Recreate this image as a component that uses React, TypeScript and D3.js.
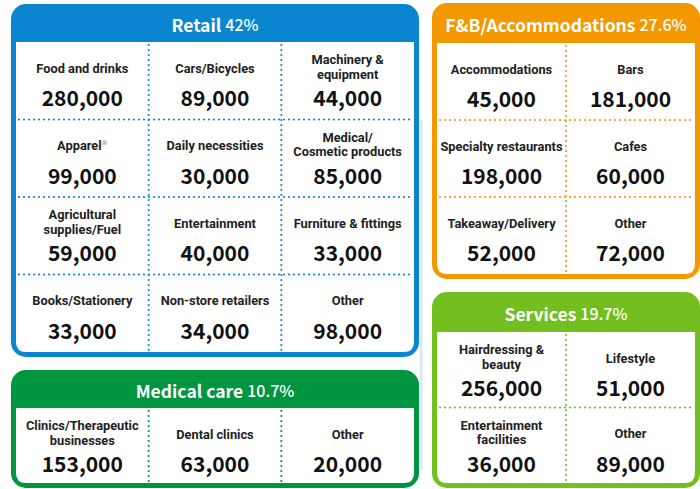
import React from "react";
import * as d3 from "d3";

const W = 700;
const H = 489;

const retailTitle = "Retail";
const retailPct = "42%";
const retailLabels = [
  ["Food and drinks"], ["Cars/Bicycles"], ["Machinery &", "equipment"],
  ["Apparel"], ["Daily necessities"], ["Medical/", "Cosmetic products"],
  ["Agricultural", "supplies/Fuel"], ["Entertainment"], ["Furniture & fittings"],
  ["Books/Stationery"], ["Non-store retailers"], ["Other"],
];
const retailValues = [280000, 89000, 44000, 99000, 30000, 85000, 59000, 40000, 33000, 33000, 34000, 98000];

const fbTitle = "F&B/Accommodations";
const fbPct = "27.6%";
const fbLabels = [
  ["Accommodations"], ["Bars"],
  ["Specialty restaurants"], ["Cafes"],
  ["Takeaway/Delivery"], ["Other"],
];
const fbValues = [45000, 181000, 198000, 60000, 52000, 72000];

const medTitle = "Medical care";
const medPct = "10.7%";
const medLabels = [["Clinics/Therapeutic", "businesses"], ["Dental clinics"], ["Other"]];
const medValues = [153000, 63000, 20000];

const svcTitle = "Services";
const svcPct = "19.7%";
const svcLabels = [["Hairdressing &", "beauty"], ["Lifestyle"], ["Entertainment", "facilities"], ["Other"]];
const svcValues = [256000, 51000, 36000, 89000];

const FONT = "'Noto Sans CJK JP', 'Noto Sans', sans-serif";
const LFONT = "Roboto, 'Noto Sans', sans-serif";
const fmt = d3.format(",");

type PanelProps = {
  x0: number; x1: number; y0: number; y1: number; hb: number;
  color: string; title: string; pct: string;
  labels: string[][]; values: number[]; cols: number; rows: number;
  noteIndex?: number;
};

function Panel(p: PanelProps) {
  const bw = 5;
  const r = 15;
  const ir = 10;
  const ix0 = p.x0 + bw;
  const ix1 = p.x1 - bw;
  const iy1 = p.y1 - bw;
  const xs = d3.scaleBand<number>().domain(d3.range(p.cols)).range([ix0, ix1]);
  const ys = d3.scaleBand<number>().domain(d3.range(p.rows)).range([p.hb, iy1]);
  const inner = `M${ix0},${p.hb} H${ix1} V${iy1 - ir} Q${ix1},${iy1} ${ix1 - ir},${iy1} H${ix0 + ir} Q${ix0},${iy1} ${ix0},${iy1 - ir} Z`;
  const dot = { stroke: p.color, strokeWidth: 2.2, strokeDasharray: "0 5", strokeLinecap: "round" as const };
  return (
    <g>
      <rect x={p.x0} y={p.y0} width={p.x1 - p.x0} height={p.y1 - p.y0} rx={r} fill={p.color} />
      <path d={inner} fill="#fff" />
      <text x={(p.x0 + p.x1) / 2} y={(p.y0 + p.hb) / 2 + 1} textAnchor="middle" dominantBaseline="central"
        fill="#fff" fontFamily={FONT}>
        <tspan fontSize={17.5} fontWeight={700}>{p.title} </tspan>
        <tspan fontSize={16} fontWeight={500}>{p.pct}</tspan>
      </text>
      {d3.range(1, p.cols).map((c) => (
        <line key={"v" + c} x1={xs(c)!} x2={xs(c)!} y1={p.hb + 3} y2={iy1 - 1} {...dot} />
      ))}
      {d3.range(1, p.rows).map((rr) => (
        <line key={"h" + rr} x1={ix0 + 3} x2={ix1 - 1} y1={ys(rr)!} y2={ys(rr)!} {...dot} />
      ))}
      {p.values.map((v, i) => {
        const c = i % p.cols;
        const rr = Math.floor(i / p.cols);
        const cx = xs(c)! + xs.bandwidth() / 2;
        const top = ys(rr)!;
        const lab = p.labels[i];
        const lys = lab.length === 1 ? [top + 26] : [top + 17.5, top + 32];
        return (
          <g key={i}>
            {lab.map((l, k) => (
              <text key={k} x={cx} y={lys[k]} textAnchor="middle" dominantBaseline="central"
                fontFamily={LFONT} fontWeight={700} fontSize={12.8} fill="#222">
                {l}
                {p.noteIndex === i && k === 0 ? <tspan fontSize={7} fill="#aaa" dy={-3}>※</tspan> : null}
              </text>
            ))}
            <text x={cx} y={top + 55} textAnchor="middle" dominantBaseline="central"
              fontFamily={FONT} fontWeight={700} fontSize={21} fill="#111">
              {fmt(v)}
            </text>
          </g>
        );
      })}
    </g>
  );
}

export default function App() {
  return (
    <svg width={W} height={H} style={{ position: "absolute", left: 0, top: 0, background: "#fff" }}>
      <rect x={0} y={0} width={W} height={H} fill="#fff" />
      <rect x={420} y={120} width={2.5} height={350} fill="#d3ebf8" />
      <Panel x0={11} x1={419} y0={4} y1={357} hb={42} color="#0a86d1" title={retailTitle} pct={retailPct}
        labels={retailLabels} values={retailValues} cols={3} rows={4} noteIndex={3} />
      <Panel x0={11} x1={419} y0={370} y1={488} hb={408} color="#00953f" title={medTitle} pct={medPct}
        labels={medLabels} values={medValues} cols={3} rows={1} />
      <Panel x0={432} x1={700} y0={3} y1={279} hb={43} color="#f39800" title={fbTitle} pct={fbPct}
        labels={fbLabels} values={fbValues} cols={2} rows={3} />
      <Panel x0={432} x1={700} y0={292} y1={488} hb={332} color="#72bf1f" title={svcTitle} pct={svcPct}
        labels={svcLabels} values={svcValues} cols={2} rows={2} />
    </svg>
  );
}
